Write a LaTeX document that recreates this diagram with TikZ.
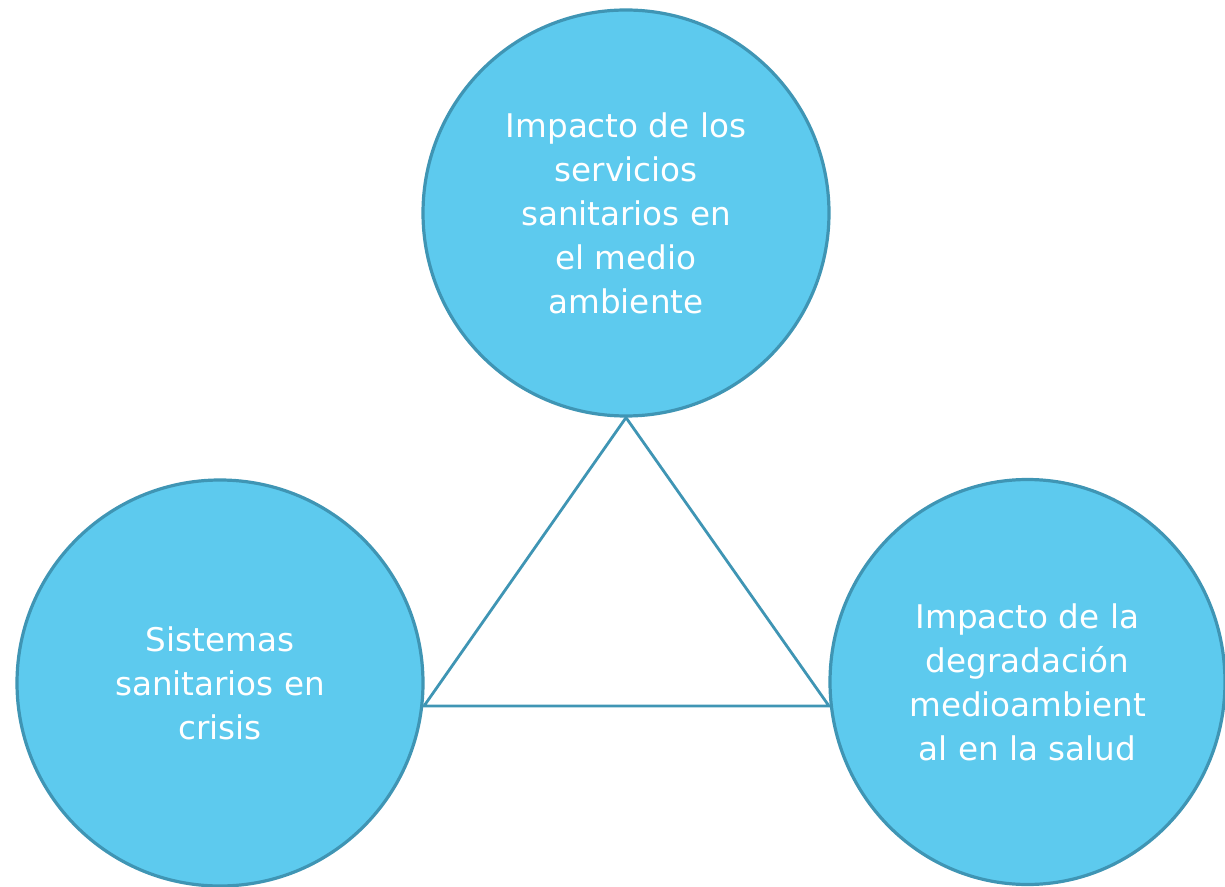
\documentclass[tikz,border=0pt]{standalone}
\usepackage{fontspec}
\usetikzlibrary{shapes.geometric}
\setmainfont{DejaVu Sans}
\definecolor{cfill}{HTML}{5DCAEE}
\definecolor{cline}{HTML}{3F95B4}
\begin{document}
\begin{tikzpicture}[x=0.5pt,y=-0.5pt,
  bubble/.style={ellipse,draw=cline,fill=cfill,line width=1.6pt,inner sep=0pt,
    text=white,align=center,font=\fontsize{16.3}{22}\selectfont},
  tri/.style={draw=cline,line width=1.4pt}]
\useasboundingbox (0,0) rectangle (1225,887);
\node[bubble,minimum width=203pt,minimum height=203pt] (top) at (626,213) {Impacto de los\\servicios\\sanitarios en\\el medio\\ambiente};
\node[bubble,minimum width=203pt,minimum height=203pt] (left) at (220,683) {Sistemas\\sanitarios en\\crisis};
\node[bubble,minimum width=197.5pt,minimum height=202.5pt] (right) at (1027.5,682) {Impacto de la\\degradación\\medioambient\\al en la salud};
\coordinate (a) at (top.south);
\coordinate (b) at (424,706);
\coordinate (c) at (829,706);
\draw[tri,line join=miter] (a) -- (b) -- (c) -- cycle;
\end{tikzpicture}
\end{document}
